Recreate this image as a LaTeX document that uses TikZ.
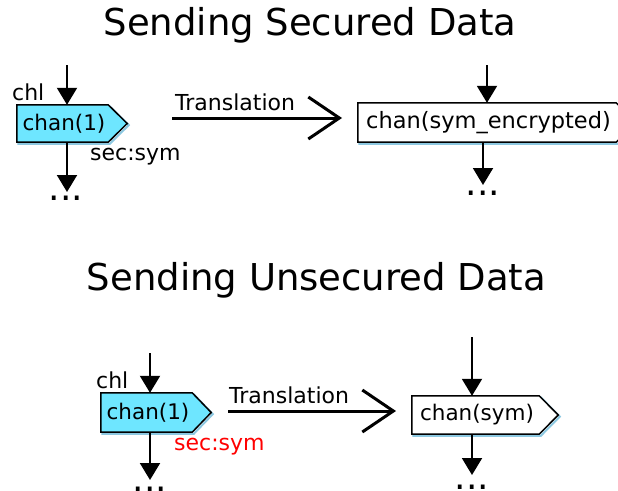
\documentclass[tikz,border=0pt]{standalone}
\usepackage{fontspec}
\setmainfont{DejaVu Sans}
\usetikzlibrary{arrows.meta,backgrounds}
\definecolor{boxcyan}{RGB}{110,230,255}
\definecolor{shadowblue}{RGB}{140,200,225}
\tikzset{
  sigtext/.style={inner sep=0pt, minimum height=#1, font=\fontsize{21.5}{24}\selectfont},
  flowarrow/.style={line width=2pt, -{Triangle[width=20pt,length=17pt]}},
  transarrow/.style={line width=3pt, -{Straight Barb[length=31pt,width=42pt,line width=3pt]}},
  lbl/.style={font=\fontsize{22}{24}\selectfont, inner sep=0pt},
  title/.style={font=\fontsize{37}{40}\selectfont, inner sep=0pt, anchor=base},
  dots/.style={font=\fontsize{36}{40}\selectfont, inner sep=0pt, anchor=base},
}
% #1 name, #2 x, #3 y, #4 width, #5 height, #6 fill, #7 text
\newcommand\sigbox[7]{%
  \node[sigtext=#5, minimum width=#4] (#1) at (#2,#3) {\hspace*{3pt}#7};
  \begin{scope}[on background layer]
    \draw[shadowblue, line width=2pt]
      ([shift={(1.6,1.6)}]#1.north west) -- ([shift={(1.6,1.6)}]#1.north east)
      -- ([shift={(20.6,1.6)}]#1.east) -- ([shift={(1.6,1.6)}]#1.south east)
      -- ([shift={(1.6,1.6)}]#1.south west) -- cycle;
    \filldraw[fill=#6, draw=black, line width=1.5pt, line join=miter]
      (#1.north west) -- (#1.north east) -- ([xshift=19pt]#1.east)
      -- (#1.south east) -- (#1.south west) -- cycle;
  \end{scope}}
\begin{document}
\begin{tikzpicture}[x=1pt,y=-1pt]
\useasboundingbox (0,0) rectangle (618,490);
% titles
\node[title] (t1) at (310,35) {Sending Secured Data};
\node[title] (t2) at (316.5,290) {Sending Unsecured Data};

% ---- top section
\sigbox{b1}{62.5}{123.5}{91}{37}{boxcyan}{chan(1)}
\node[sigtext=39, minimum width=258, font=\fontsize{22.5}{24}\selectfont] (b2) at (487,122.5) {\hspace*{3pt}chan(sym\_encrypted)};
\begin{scope}[on background layer]
  \draw[shadowblue, line width=2pt]
    ([shift={(1.6,1.6)}]b2.north west) -- ([shift={(1.6,1.6)}]b2.north east)
    -- ([shift={(20.6,1.6)}]b2.east) -- ([shift={(1.6,1.6)}]b2.south east)
    -- ([shift={(1.6,1.6)}]b2.south west) -- cycle;
  \filldraw[fill=white, draw=black, line width=1.5pt]
    (b2.north west) -- (b2.north east) -- ([xshift=19pt]b2.east)
    -- (b2.south east) -- (b2.south west) -- cycle;
\end{scope}

\coordinate (a1s) at (67,65);
\draw[flowarrow] (a1s) -- (a1s |- b1.north);
\node[dots] (d1) at (66,200) {...};
\coordinate (a1b) at (67,142);
\draw[flowarrow] (a1b) -- (67,192);
\node[lbl, anchor=base west] (chl1) at (12,100) {chl};
\node[lbl, anchor=base west] (sec1) at (90,160) {sec:sym};

\coordinate (a2s) at (487,65);
\draw[flowarrow] (a2s) -- (a2s |- b2.north);
\node[dots] (d2) at (483,195) {...};
\coordinate (a2b) at (483,142);
\draw[flowarrow] (a2b) -- (483,185);

\coordinate (tr1s) at (172,118);
\coordinate (tr1e) at (342,118);
\draw[transarrow] (tr1s) -- (tr1e);
\node[lbl, anchor=base west] (trl1) at (175,110) {Translation};

% ---- bottom section
\sigbox{b3}{146.5}{412.5}{91}{39}{boxcyan}{chan(1)}
\sigbox{b4}{475.5}{415}{127}{38}{white}{chan(sym)}

\coordinate (a3s) at (150,353);
\draw[flowarrow] (a3s) -- (a3s |- b3.north);
\coordinate (a3b) at (150,432);
\draw[flowarrow] (a3b) -- (150,480);
\node[dots] (d3) at (150,491) {...};
\node[lbl, anchor=base west] (chl2) at (96,388) {chl};
\node[lbl, anchor=base west, text=red] (sec2) at (174,450) {sec:sym};

\coordinate (a4s) at (472,337);
\draw[flowarrow] (a4s) -- (a4s |- b4.north);
\coordinate (a4b) at (472,434);
\draw[flowarrow] (a4b) -- (472,475);
\node[dots] (d4) at (472,489) {...};

\coordinate (tr2s) at (228,411);
\coordinate (tr2e) at (396,411);
\draw[transarrow] (tr2s) -- (tr2e);
\node[lbl, anchor=base west] (trl2) at (229,403) {Translation};
\end{tikzpicture}
\end{document}
